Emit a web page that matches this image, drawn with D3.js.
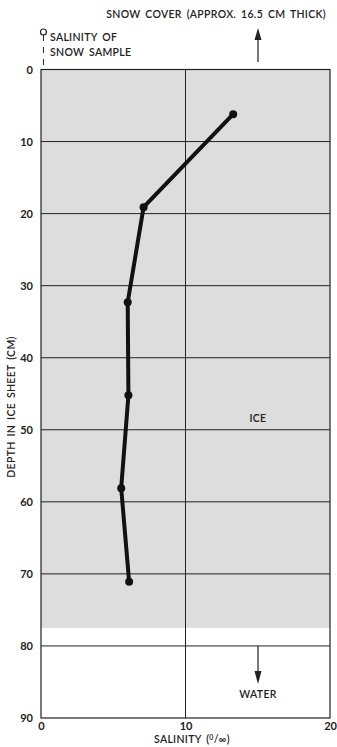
<!DOCTYPE html>
<html><head><meta charset="utf-8">
<script src="https://cdn.jsdelivr.net/npm/d3@7"></script>
<style>body{margin:0;background:#fff}svg{display:block}text{font-family:"Lato","DejaVu Sans",sans-serif;fill:#222}
.lbl{letter-spacing:0.3px;word-spacing:2px;font-weight:600}</style>
</head><body>
<script>
const depths = [6.2, 19.1, 32.3, 45.2, 58.1, 71.1];
const salinity = [13.3, 7.1, 6.0, 6.05, 5.55, 6.1];
const yTicks = [0,10,20,30,40,50,60,70,80,90];
const xTicks = [0,10,20];
const iceBottom = 77.5;
const snowSalinity = 0.1;

const W=337,H=747;
const svg=d3.select("body").append("svg").attr("width",W).attr("height",H);
const x=d3.scaleLinear().domain([0,20]).range([41,330]);
const y=d3.scaleLinear().domain([0,90]).range([69.5,718]);

svg.append("rect").attr("x",x(0)).attr("y",y(0)).attr("width",x(20)-x(0)).attr("height",y(iceBottom)-y(0)).attr("fill","#dddddd");

svg.append("g").selectAll("line").data(yTicks.filter(d=>d>0&&d<90)).join("line")
 .attr("x1",x(0)).attr("x2",x(20)).attr("y1",d=>y(d)).attr("y2",d=>y(d)).attr("stroke","#222").attr("stroke-width",1);
svg.append("line").attr("x1",x(10)).attr("x2",x(10)).attr("y1",y(0)).attr("y2",y(90)).attr("stroke","#222").attr("stroke-width",1);
svg.append("rect").attr("x",x(0)).attr("y",y(0)).attr("width",x(20)-x(0)).attr("height",y(90)-y(0)).attr("fill","none").attr("stroke","#222").attr("stroke-width",1.2);

const ya=svg.append("g").attr("transform",`translate(${x(0)},0)`).call(d3.axisLeft(y).tickValues(yTicks).tickSize(0).tickPadding(8));
ya.select(".domain").remove();
ya.selectAll("text").attr("font-size",11).attr("font-weight","bold").attr("font-family","Lato, DejaVu Sans, sans-serif").attr("fill","#222");
const xa=svg.append("g").attr("transform",`translate(0,${y(90)})`).call(d3.axisBottom(x).tickValues(xTicks).tickSize(0).tickPadding(4));
xa.select(".domain").remove();
xa.selectAll("text").attr("font-size",11).attr("font-weight","bold").attr("font-family","Lato, DejaVu Sans, sans-serif").attr("fill","#222");

const line=d3.line().x((d,i)=>x(salinity[i])).y(d=>y(d));
svg.append("path").attr("d",line(depths)).attr("fill","none").attr("stroke","#111").attr("stroke-width",4).attr("stroke-linejoin","round");
svg.append("g").selectAll("circle").data(depths).join("circle").attr("cx",(d,i)=>x(salinity[i])).attr("cy",d=>y(d)).attr("r",4).attr("fill","#111");

svg.append("circle").attr("cx",x(snowSalinity)+1).attr("cy",32).attr("r",3).attr("fill","#fff").attr("stroke","#222").attr("stroke-width",1.2);
svg.append("line").attr("x1",x(snowSalinity)+1).attr("x2",x(snowSalinity)+1).attr("y1",35).attr("y2",y(0)).attr("stroke","#222").attr("stroke-width",1).attr("stroke-dasharray","6,6");
svg.append("text").attr("class","lbl").attr("x",50).attr("y",41).attr("font-size",10.5).text("SALINITY OF");
svg.append("text").attr("class","lbl").attr("x",50).attr("y",56).attr("font-size",10.5).text("SNOW SAMPLE");

svg.append("text").attr("class","lbl").attr("x",326).attr("y",18).attr("text-anchor","end").attr("font-size",10.5).text("SNOW COVER (APPROX. 16.5 CM THICK)");
svg.append("line").attr("x1",258).attr("x2",258).attr("y1",36).attr("y2",62).attr("stroke","#222").attr("stroke-width",1.2);
svg.append("path").attr("d","M258,28 L254.5,40 L261.5,40 Z").attr("fill","#222");

svg.append("text").attr("class","lbl").attr("x",258).attr("y",422).attr("text-anchor","middle").attr("font-size",10.5).text("ICE");
svg.append("line").attr("x1",258).attr("x2",258).attr("y1",y(80)).attr("y2",676).attr("stroke","#222").attr("stroke-width",1.2);
svg.append("path").attr("d","M258,684 L254.5,671 L261.5,671 Z").attr("fill","#222");
svg.append("text").attr("class","lbl").attr("x",258).attr("y",698).attr("text-anchor","middle").attr("font-size",10.5).text("WATER");

svg.append("text").attr("class","lbl").attr("transform",`translate(15,${407}) rotate(-90)`).attr("text-anchor","middle").attr("font-size",10.5).text("DEPTH IN ICE SHEET (CM)");
const xt=svg.append("text").attr("class","lbl").attr("x",192).attr("y",743).attr("text-anchor","middle").attr("font-size",10.5);
xt.append("tspan").text("SALINITY  (");
xt.append("tspan").attr("font-size",7).attr("dy",-3).text("0");
xt.append("tspan").attr("dy",3).text("/∞)");
</script>
</body></html>
